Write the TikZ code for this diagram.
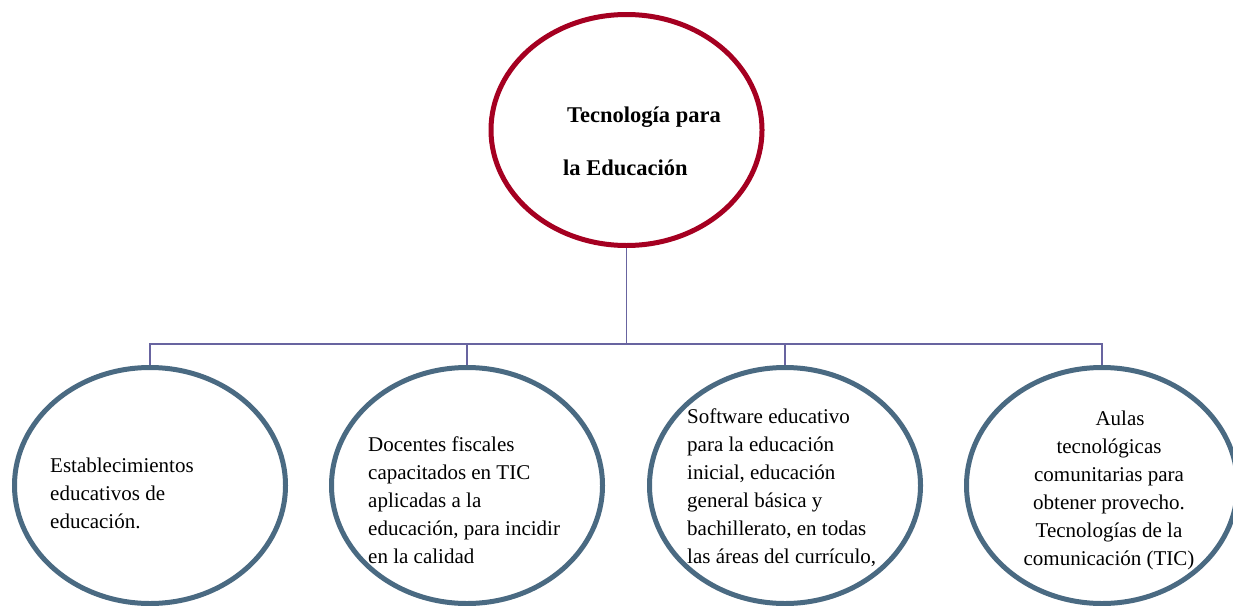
\documentclass[tikz,border=0pt]{standalone}
\usepackage{fontspec}
\setmainfont{Liberation Serif}
\usepackage{tikz}
\usetikzlibrary{shapes.geometric}
\definecolor{wine}{RGB}{165,0,33}
\definecolor{slate}{RGB}{74,106,130}
\definecolor{linkblue}{RGB}{104,100,160}

\begin{document}
\begin{tikzpicture}[x=1pt,y=-1pt,
  bubble/.style={ellipse,draw=slate,line width=5pt,minimum width=271,minimum height=236,inner sep=0},
  txt/.style={inner sep=0,anchor=north west,align=left,font=\fontsize{21}{28}\selectfont},
  link/.style={draw=linkblue,line width=1.6pt}]
\useasboundingbox (0,0) rectangle (1233,605);
\clip (0,0) rectangle (1233,605);
\fill[white] (0,0) rectangle (1233,605);
% main topic
\node[ellipse,draw=wine,line width=5pt,minimum width=271,minimum height=231,inner sep=0] (top) at (626.5,130) {};
\node[txt,font=\bfseries\fontsize{22.5}{26}\selectfont] (toptxt) at (563,103.8) {\strut\hspace*{4pt}Tecnología para\\[27pt]la Educación};
% the four branches
\node[bubble] (c1) at (150,485.5) {};
\node[bubble] (c2) at (467,485.5) {};
\node[bubble] (c3) at (785,485.5) {};
\node[bubble] (c4) at (1102,485.5) {};
\node[txt] (t1) at (50,452.4) {\strut Establecimientos\\educativos de\\educación.};
\node[txt] (t2) at (368,431.4) {\strut Docentes fiscales\\capacitados en TIC\\aplicadas a la\\educación, para incidir\\en la calidad};
\node[txt] (t3) at (687,403.4) {\strut Software educativo\\para la educación\\inicial, educación\\general básica y\\bachillerato, en todas\\las áreas del currículo,};
\node[txt,anchor=north,align=center] (t4) at (1109,405.4) {\strut\hspace*{22pt}Aulas\\tecnológicas\\comunitarias para\\obtener provecho.\\Tecnologías de la\\comunicación (TIC)};
% connectors
\coordinate (bus) at (626.5,344);
\draw[link] (top.south) -- (bus);
\draw[link] (c1.north) -- (c1.north |- bus) -- (c4.north |- bus) -- (c4.north);
\draw[link] (c2.north) -- (c2.north |- bus);
\draw[link] (c3.north) -- (c3.north |- bus);
\end{tikzpicture}
\end{document}
